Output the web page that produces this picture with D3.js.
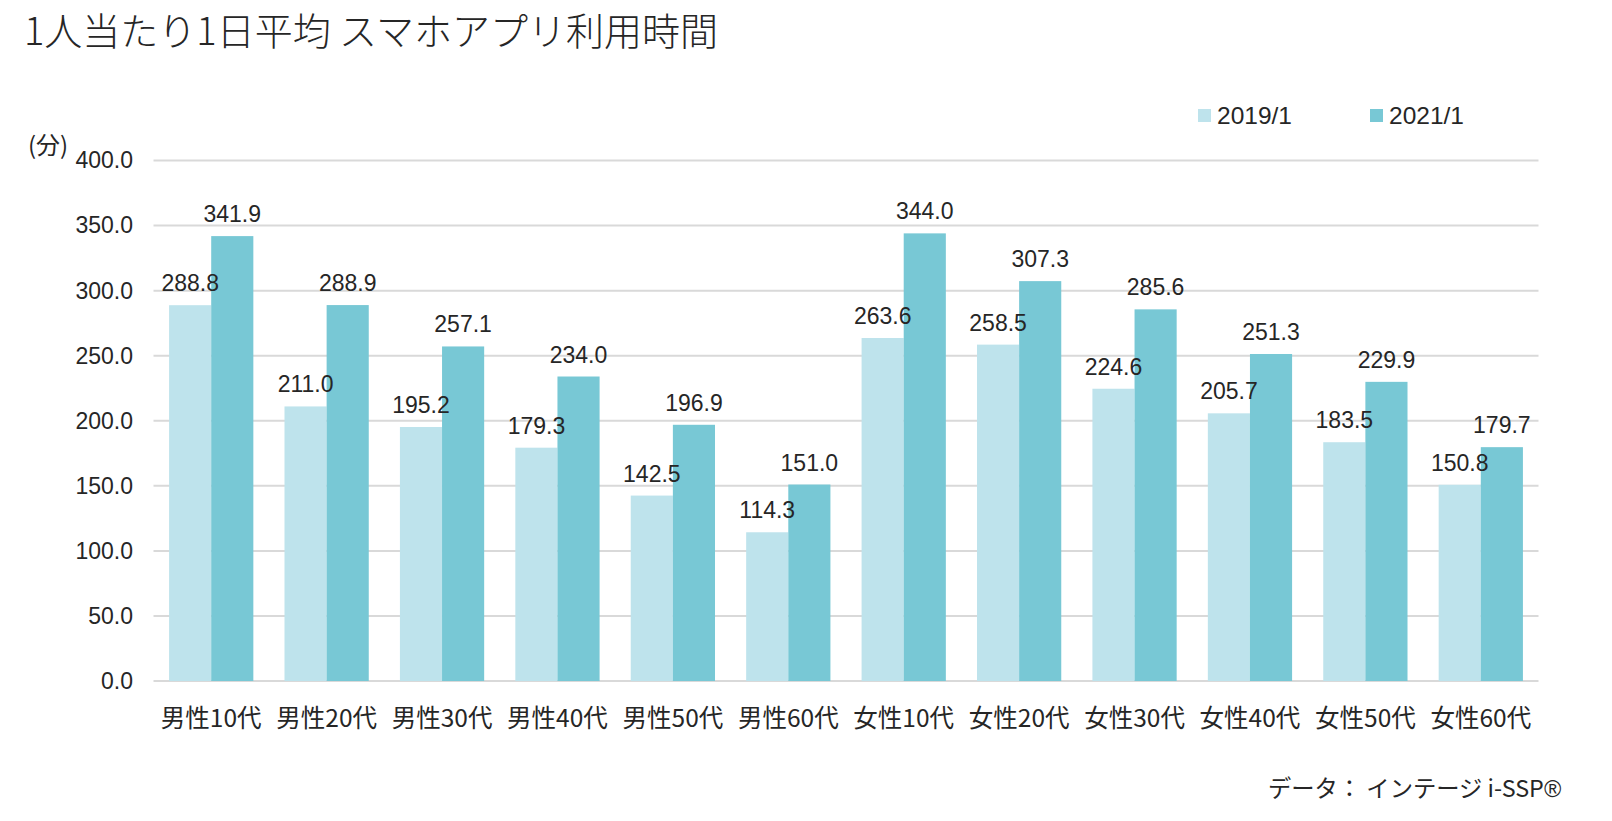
<!DOCTYPE html>
<html>
<head>
<meta charset="utf-8">
<script src="https://cdn.jsdelivr.net/npm/d3@7"></script>
<style>
  body { margin: 0; background: #fff; }
  text { fill: #262626; }
</style>
</head>
<body>
<svg id="chart" width="1612" height="821"></svg>
<script>
// data
const categories = ["男性10代", "男性20代", "男性30代", "男性40代", "男性50代", "男性60代",
                    "女性10代", "女性20代", "女性30代", "女性40代", "女性50代", "女性60代"];
const seriesNames = ["2019/1", "2021/1"];
const values2019 = [288.8, 211.0, 195.2, 179.3, 142.5, 114.3, 263.6, 258.5, 224.6, 205.7, 183.5, 150.8];
const values2021 = [341.9, 288.9, 257.1, 234.0, 196.9, 151.0, 344.0, 307.3, 285.6, 251.3, 229.9, 179.7];
const yTicks = [0, 50, 100, 150, 200, 250, 300, 350, 400];
const colors = ["#bee3ec", "#78c8d5"];

const numFont = "'Liberation Sans', Arial, sans-serif";
const jpFont = "'Noto Sans CJK JP', sans-serif";

const svg = d3.select("#chart");

const plotLeft = 153.5, plotRight = 1538.5, plotTop = 160.5, plotBottom = 681;

const x = d3.scaleBand()
    .domain(categories)
    .range([plotLeft, plotRight])
    .paddingInner(0.27)
    .paddingOuter(0.135);

const xs = d3.scaleBand()
    .domain(seriesNames)
    .range([0, x.bandwidth()]);

const y = d3.scaleLinear()
    .domain([0, 400])
    .range([plotBottom, plotTop]);

// gridlines
svg.append("g")
    .selectAll("line")
    .data(yTicks)
    .enter()
    .append("line")
    .attr("x1", plotLeft)
    .attr("x2", plotRight)
    .attr("y1", d => y(d))
    .attr("y2", d => y(d))
    .style("stroke", "#d9d9d9")
    .style("stroke-width", 2);

// y axis labels
const yAxis = d3.axisLeft(y)
    .tickValues(yTicks)
    .tickFormat(d3.format(".1f"))
    .tickSize(0)
    .tickPadding(0);

svg.append("g")
    .attr("transform", "translate(133,0)")
    .call(yAxis)
    .call(g => g.select(".domain").remove())
    .selectAll("text")
    .style("font-family", numFont)
    .style("font-size", "23px")
    .style("fill", "#262626");

// rows for the bars
const rows = categories.map((c, i) => ({ cat: c, vals: [values2019[i], values2021[i]] }));

const groups = svg.append("g")
    .selectAll("g")
    .data(rows)
    .enter()
    .append("g")
    .attr("transform", d => "translate(" + x(d.cat) + ",0)");

groups.selectAll("rect")
    .data(d => d.vals.map((v, j) => ({ name: seriesNames[j], v: v, j: j })))
    .enter()
    .append("rect")
    .attr("x", d => xs(d.name))
    .attr("width", xs.bandwidth())
    .attr("y", d => y(d.v))
    .attr("height", d => y(0) - y(d.v))
    .style("fill", d => colors[d.j]);

// value labels on top of everything
groups.selectAll("text.val")
    .data(d => d.vals.map((v, j) => ({ name: seriesNames[j], v: v })))
    .enter()
    .append("text")
    .classed("val", true)
    .attr("x", d => xs(d.name) + xs.bandwidth() / 2)
    .attr("y", d => y(d.v) - 14)
    .attr("text-anchor", "middle")
    .style("font-family", numFont)
    .style("font-size", "23px")
    .text(d => d.v.toFixed(1));

// x axis labels
const xAxis = d3.axisBottom(x).tickSize(0).tickPadding(0);
svg.append("g")
    .attr("transform", "translate(0,709)")
    .call(xAxis)
    .call(g => g.select(".domain").remove())
    .selectAll("text")
    .attr("dy", "0.72em")
    .style("font-family", jpFont)
    .style("font-size", "24.5px")
    .style("fill", "#262626");

// legend
const legendX = [1198, 1370];
const legend = svg.append("g")
    .selectAll("g")
    .data(seriesNames)
    .enter()
    .append("g")
    .attr("transform", (d, i) => "translate(" + legendX[i] + ",109)");

legend.append("rect")
    .attr("width", 13)
    .attr("height", 13)
    .style("fill", (d, i) => colors[i]);

legend.append("text")
    .attr("x", 19)
    .attr("y", 14.5)
    .style("font-family", numFont)
    .style("font-size", "24.5px")
    .text(d => d);

// unit
svg.append("text")
    .attr("x", 28)
    .attr("y", 154)
    .style("font-family", jpFont)
    .style("font-size", "24px")
    .text("(分)");

// title
svg.append("text")
    .attr("x", 24)
    .attr("y", 45)
    .style("font-family", jpFont)
    .style("font-size", "38px")
    .style("font-weight", 300)
    .text("1人当たり1日平均 スマホアプリ利用時間");

// source
const source = svg.append("text")
    .attr("x", 1561)
    .attr("y", 797)
    .attr("text-anchor", "end")
    .style("font-family", jpFont)
    .style("font-size", "23.3px");
source.append("tspan").text("データ： インテージ i-SSP");
source.append("tspan")
    .style("font-family", numFont)
    .style("font-style", "italic")
    .text("®");
</script>
</body>
</html>
